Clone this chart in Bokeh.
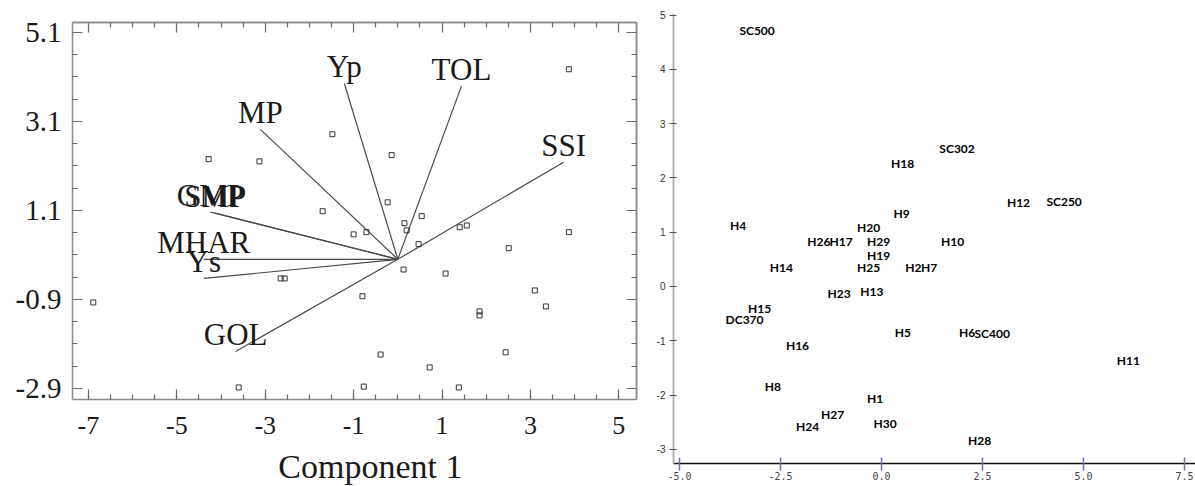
import numpy as np
from bokeh.plotting import figure
from bokeh.layouts import row, column
from bokeh.models import FixedTicker, LinearAxis, Range1d, PrintfTickFormatter
from bokeh.core.properties import value
from bokeh.embed import file_html
from bokeh.resources import INLINE

# ---------------- Left panel: PCA biplot ----------------
score_x = [-4.28, -3.13, -1.70, 3.87, -1.48, -0.14, -0.23, 0.54, 0.15, 0.20, -1.00,
           -0.71, 1.40, 1.56, 0.47, 2.51, 3.87, 0.13, 1.08, -2.65, -2.56, -0.80,
           3.10, 3.35, 1.85, 1.85, -0.39, 2.44, 0.72, -0.77, 1.38, -6.89, -3.60]
score_y = [2.25, 2.20, 1.08, 4.27, 2.81, 2.34, 1.28, 0.97, 0.81, 0.65, 0.56,
           0.61, 0.72, 0.76, 0.34, 0.25, 0.61, -0.23, -0.32, -0.43, -0.43, -0.83,
           -0.70, -1.06, -1.17, -1.26, -2.14, -2.09, -2.43, -2.86, -2.88, -0.97, -2.88]

var_names = ["Yp", "TOL", "SSI", "MP", "GMP", "SMP", "MHAR", "Ys", "GOL"]
var_x = [-1.21, 1.44, 3.75, -3.11, -4.24, -4.13, -4.39, -4.39, -3.67]
var_y = [3.95, 3.89, 2.18, 2.92, 1.06, 1.04, 0.0, -0.43, -2.07]

left_xticks = [-7, -5, -3, -1, 1, 3, 5]
left_yticks = [5.1, 3.1, 1.1, -0.9, -2.9]
left_xlabel = "Component 1"

# ---------------- Right panel: genotype scatter ----------------
genotypes = ["SC500", "H18", "H9", "H4", "H20", "H26", "H17", "H29", "SC302", "H12",
             "SC250", "H10", "H19", "H14", "H25", "H2", "H7", "H23", "H13", "H15",
             "DC370", "H5", "H16", "H8", "H1", "H27", "H24", "H30", "H6", "SC400",
             "H11", "H28"]
gen_x = [-3.08, 0.52, 0.50, -3.55, -0.32, -1.55, -1.00, -0.07, 1.87, 3.39,
         4.52, 1.76, -0.07, -2.48, -0.32, 0.79, 1.18, -1.05, -0.24, -3.02,
         -3.39, 0.53, -2.08, -2.69, -0.16, -1.21, -1.83, 0.09, 2.12, 2.74,
         6.11, 2.43]
gen_y = [4.72, 2.27, 1.34, 1.13, 1.08, 0.82, 0.82, 0.82, 2.55, 1.55,
         1.57, 0.83, 0.57, 0.35, 0.35, 0.35, 0.35, -0.12, -0.09, -0.40,
         -0.60, -0.84, -1.08, -1.85, -2.07, -2.35, -2.57, -2.53, -0.84, -0.86,
         -1.37, -2.83]

right_xticks = [-5.0, -2.5, 0.0, 2.5, 5.0, 7.5]
right_yticks = [-3, -2, -1, 0, 1, 2, 3, 4, 5]

SERIF = "Liberation Serif"
BOX = "#8a8a8a"
TICK = "#6a6a6a"

# ---------- left figure ----------
x_range_l = Range1d(-7.36, 5.40)
p1 = figure(width=640, height=446, x_range=x_range_l, y_range=Range1d(-3.15, 5.32),
            x_axis_type=None, y_axis_type=None, output_backend="svg", toolbar_location=None,
            min_border_left=72, min_border_right=4, min_border_top=22, min_border_bottom=47,
            outline_line_color=None, background_fill_color="white", border_fill_color="white")
p1.frame_align = False
p1.grid.visible = False

x_minor = [float(v) for v in np.round(np.arange(left_xticks[0], left_xticks[-1] + 0.01, 0.5), 2)]
y_minor = [float(v) for v in np.round(np.arange(left_yticks[-1], left_yticks[0] + 0.01, 0.5), 2)]


def styled(ax, tick_len, minor_len):
    ax.axis_line_color = BOX
    ax.axis_line_width = 1.5
    ax.major_tick_in = tick_len
    ax.major_tick_out = 0
    ax.minor_tick_in = minor_len
    ax.minor_tick_out = 0
    ax.major_tick_line_color = TICK
    ax.minor_tick_line_color = TICK
    ax.major_tick_line_width = 1.2
    ax.minor_tick_line_width = 1.2
    return ax


# labelled axes (bottom, left)
bx = styled(LinearAxis(ticker=FixedTicker(ticks=left_xticks, minor_ticks=x_minor),
                       formatter=PrintfTickFormatter(format="%d")), 10, 5)
bx.major_label_text_font = SERIF
bx.major_label_text_font_size = "26px"
bx.major_label_text_color = "#1a1a1a"
bx.major_label_standoff = 17
p1.add_layout(bx, "below")

ly = styled(LinearAxis(ticker=FixedTicker(ticks=left_yticks, minor_ticks=y_minor),
                       formatter=PrintfTickFormatter(format="%.1f")), 10, 5)
ly.major_label_text_font = SERIF
ly.major_label_text_font_size = "29px"
ly.major_label_text_color = "#1a1a1a"
ly.major_label_standoff = 11
p1.add_layout(ly, "left")

# unlabelled tick-only axes closing the box (top, right)
for side, majors, minors in (("above", left_xticks, x_minor), ("right", left_yticks, y_minor)):
    for ticks_here, length in ((majors, 10), ([m for m in minors if m not in majors], 5)):
        ax = styled(LinearAxis(ticker=FixedTicker(ticks=[], minor_ticks=ticks_here)), 10, length)
        ax.major_label_standoff = 0
        p1.add_layout(ax, side)

zeros = [0.0] * len(var_x)
p1.segment(x0=zeros, y0=zeros, x1=var_x, y1=var_y, line_color="#4a4a4a", line_width=1.2)
p1.scatter(x=score_x, y=score_y, marker="square", size=5, fill_color=None,
           line_color="#333333", line_width=1)
p1.text(x=var_x, y=var_y, text=var_names, text_align="center", text_baseline="middle",
        y_offset=-17, text_font=value(SERIF), text_font_size="31px", text_color="#1a1a1a")

# axis title strip below the biplot
p3 = figure(width=640, height=40, x_range=x_range_l, y_range=Range1d(0, 1),
            x_axis_type=None, y_axis_type=None, output_backend="svg", toolbar_location=None,
            min_border_left=72, min_border_right=4, min_border_top=0, min_border_bottom=0,
            outline_line_color=None, background_fill_color="white", border_fill_color="white")
p3.frame_align = False
p3.grid.visible = False
p3.text(x=[-0.62], y=[0.5], text=[left_xlabel], text_align="center", text_baseline="middle",
        text_font=value(SERIF), text_font_size="34px", text_color="#1a1a1a")

# ---------- right figure ----------
p2 = figure(width=555, height=486, x_range=Range1d(-5.149, 7.772), y_range=Range1d(-3.26, 5.028),
            x_axis_type=None, y_axis_type=None, output_backend="svg", toolbar_location=None,
            min_border_left=33, min_border_right=0, min_border_top=13, min_border_bottom=23,
            outline_line_color=None, background_fill_color="white", border_fill_color="white")
p2.frame_align = False
p2.grid.visible = False

ay = LinearAxis(ticker=FixedTicker(ticks=right_yticks), formatter=PrintfTickFormatter(format="%d"))
ay.axis_line_color = "#b9b3a8"
ay.axis_line_width = 2
ay.major_tick_in = 3
ay.major_tick_out = 4
ay.minor_tick_line_color = None
ay.major_tick_line_color = "#55556a"
ay.major_label_text_font = "Liberation Sans"
ay.major_label_text_font_size = "10px"
ay.major_label_text_color = "#333333"
ay.major_label_standoff = 4
p2.add_layout(ay, "left")

ax2 = LinearAxis(ticker=FixedTicker(ticks=right_xticks), formatter=PrintfTickFormatter(format="%.1f"))
ax2.axis_line_color = "#111111"
ax2.axis_line_width = 1.5
ax2.major_tick_in = 6
ax2.major_tick_out = 7
ax2.minor_tick_line_color = None
ax2.major_tick_line_color = "#7070b8"
ax2.major_tick_line_width = 1.5
ax2.major_label_text_font = "DejaVu Sans Mono"
ax2.major_label_text_font_size = "10px"
ax2.major_label_text_color = "#444444"
ax2.major_label_standoff = 1
p2.add_layout(ax2, "below")

p2.text(x=gen_x, y=gen_y, text=genotypes, text_align="center", text_baseline="middle",
        text_font=value("Lato"), text_font_style="bold", text_font_size="12px",
        text_color="#000000")

layout = row(column(p1, p3), p2)
open("out.html", "w").write(file_html(layout, INLINE))
